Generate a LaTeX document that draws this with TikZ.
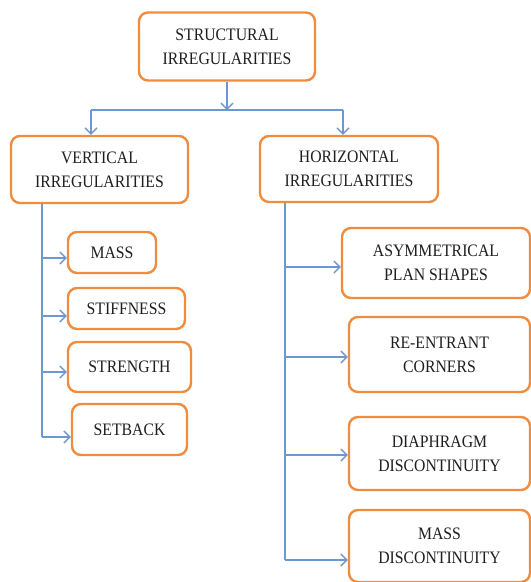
\documentclass[tikz,border=0pt]{standalone}
\usepackage{fontspec}
\setmainfont[FakeStretch=0.9]{Liberation Serif}
\usetikzlibrary{arrows.meta}
\definecolor{boxorange}{RGB}{240,140,62}
\definecolor{lineblue}{RGB}{108,152,210}
\definecolor{textgray}{RGB}{30,30,30}
\begin{document}
\begin{tikzpicture}[x=1pt,y=-1pt,
  box/.style={draw=boxorange, line width=2.4pt, rounded corners=9pt, fill=white,
    align=center, inner sep=0pt, text=textgray, font=\fontsize{17.5}{24}\selectfont},
  conn/.style={draw=lineblue, line width=1.5pt},
  arr/.style={conn, -{Straight Barb[length=6pt,width=12pt,line width=1.4pt]}}]
\useasboundingbox (0,0) rectangle (531,582);
\fill[white] (0,0) rectangle (531,582);
% top level
\node[box, minimum width=176pt, minimum height=68pt] (top) at (227,46.5) {STRUCTURAL\\IRREGULARITIES};
\node[box, minimum width=177pt, minimum height=67pt] (vert) at (99.5,169.5) {VERTICAL\\IRREGULARITIES};
\node[box, minimum width=178pt, minimum height=66pt] (hori) at (349,169) {HORIZONTAL\\IRREGULARITIES};
% vertical children
\node[box, minimum width=88pt, minimum height=41pt] (mass) at (112,252.5) {MASS};
\node[box, minimum width=117pt, minimum height=41pt] (stiff) at (126.5,308.5) {STIFFNESS};
\node[box, minimum width=123pt, minimum height=50pt] (strength) at (129.5,367) {STRENGTH};
\node[box, minimum width=115pt, minimum height=51pt] (setback) at (129.5,429.5) {SETBACK};
% horizontal children
\node[box, minimum width=188pt, minimum height=70pt] (asym) at (436,263) {ASYMMETRICAL\\PLAN SHAPES};
\node[box, minimum width=181pt, minimum height=75pt] (reent) at (439.5,354.5) {RE-ENTRANT\\CORNERS};
\node[box, minimum width=181pt, minimum height=73pt] (diaph) at (439.5,453.5) {DIAPHRAGM\\DISCONTINUITY};
\node[box, minimum width=181pt, minimum height=72pt] (massd) at (439.5,546) {MASS\\DISCONTINUITY};
% top connectors
\coordinate (bus) at (227,110);
\draw[arr] (top.south) -- (bus);
\draw[conn] (91,110) -- (343,110);
\draw[arr] (91,110) -- (vert.north -| 91,0);
\draw[arr] (343,110) -- (hori.north -| 343,0);
% vertical trunk
\coordinate (vt) at (42,0);
\draw[conn] (vert.south -| vt) -- (42,437);
\draw[arr] (42,258) -- (mass.west |- 0,258);
\draw[arr] (42,316) -- (stiff.west |- 0,316);
\draw[arr] (42,372) -- (strength.west |- 0,372);
\draw[arr] (42,437) -- (setback.west |- 0,437);
% horizontal trunk
\coordinate (ht) at (285,0);
\draw[conn] (hori.south -| ht) -- (285,560);
\draw[arr] (285,267) -- (asym.west |- 0,267);
\draw[arr] (285,357) -- (reent.west |- 0,357);
\draw[arr] (285,455) -- (diaph.west |- 0,455);
\draw[arr] (285,560) -- (massd.west |- 0,560);
\end{tikzpicture}
\end{document}
